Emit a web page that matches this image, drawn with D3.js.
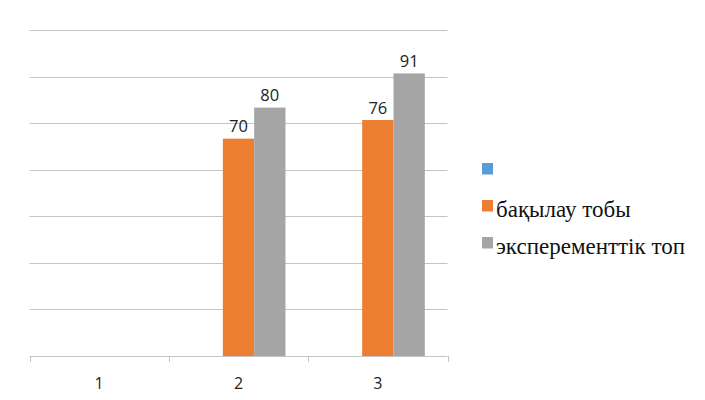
<!DOCTYPE html>
<html>
<head>
<meta charset="utf-8">
<script src="https://cdn.jsdelivr.net/npm/d3@7"></script>
<style>
  html, body { margin: 0; padding: 0; background: #fff; }
  svg { display: block; }
  .legend-label { font-family: "Liberation Serif", "DejaVu Serif", serif; }
</style>
</head>
<body>
<svg id="chart" width="705" height="400"></svg>
<script>
// Chart data
const categories = ["1", "2", "3"];
const seriesNames = ["", "бақылау тобы", "эксперементтік топ"];
const seriesColors = ["#5B9BD5", "#ED7D31", "#A5A5A5"];
const seriesBlank = [null, null, null];
const seriesControl = [null, 70, 76];
const seriesExperiment = [null, 80, 91];
const yTicks = [0, 15, 30, 45, 60, 75, 90, 105];

const seriesValues = [seriesBlank, seriesControl, seriesExperiment];

const svg = d3.select("#chart");
const plot = { left: 29.5, right: 447.5, top: 30, bottom: 356 };

const x0 = d3.scaleBand()
  .domain(categories)
  .range([plot.left, plot.right])
  .paddingInner(0)
  .paddingOuter(0);

// group of three bar slots, gap between groups ~145% of bar width
const groupWidth = x0.bandwidth() * 3 / (3 + 1.45);
const x1 = d3.scaleBand()
  .domain(d3.range(seriesValues.length))
  .range([0, groupWidth]);

const y = d3.scaleLinear()
  .domain([0, 105])
  .range([plot.bottom, plot.top]);

// horizontal gridlines
svg.append("g")
  .selectAll("line")
  .data(yTicks.filter(t => t > 0))
  .join("line")
  .attr("x1", plot.left)
  .attr("x2", plot.right)
  .attr("y1", d => Math.round(y(d)) + 0.5)
  .attr("y2", d => Math.round(y(d)) + 0.5)
  .attr("stroke", "#c4c4c4")
  .attr("stroke-width", 1);

// bars
const groups = svg.append("g")
  .selectAll("g")
  .data(categories)
  .join("g")
  .attr("transform", d => `translate(${x0(d) + (x0.bandwidth() - groupWidth) / 2},0)`);

groups.selectAll("rect")
  .data((c, i) => seriesValues.map((s, k) => ({ k, v: s[i] })))
  .join("rect")
  .filter(d => d.v != null)
  .attr("x", d => x1(d.k))
  .attr("width", x1.bandwidth())
  .attr("y", d => y(d.v))
  .attr("height", d => y(0) - y(d.v))
  .attr("fill", d => seriesColors[d.k]);

// value labels
groups.selectAll("text")
  .data((c, i) => seriesValues.map((s, k) => ({ k, v: s[i] })).filter(d => d.v != null))
  .join("text")
  .attr("x", d => x1(d.k) + x1.bandwidth() / 2)
  .attr("y", d => y(d.v) - 6.5)
  .attr("text-anchor", "middle")
  .attr("font-family", "'Open Sans', 'Liberation Sans', sans-serif")
  .attr("font-size", 16.5)
  .attr("fill", "#222")
  .text(d => d.v);

// category axis
const axisG = svg.append("g")
  .attr("transform", `translate(0,${plot.bottom})`);
axisG.append("line")
  .attr("x1", plot.left).attr("x2", plot.right)
  .attr("y1", 0.5).attr("y2", 0.5)
  .attr("stroke", "#c4c4c4");
axisG.selectAll("line.tick")
  .data(categories.map(c => x0(c)).concat([plot.right]))
  .join("line")
  .attr("class", "tick")
  .attr("x1", d => Math.round(d) + 0.5).attr("x2", d => Math.round(d) + 0.5)
  .attr("y1", 0).attr("y2", 6)
  .attr("stroke", "#c4c4c4");
axisG.selectAll("text")
  .data(categories)
  .join("text")
  .attr("x", d => x0(d) + x0.bandwidth() / 2)
  .attr("y", 32.5)
  .attr("text-anchor", "middle")
  .attr("font-family", "'Open Sans', 'Liberation Sans', sans-serif")
  .attr("font-size", 16)
  .attr("fill", "#222")
  .text(d => d);

// legend
const legend = svg.append("g").attr("transform", "translate(482,0)");
const legendY = [169, 206, 243];
const items = legend.selectAll("g")
  .data(seriesNames.map((n, i) => ({ n, i })))
  .join("g")
  .attr("transform", d => `translate(0,${legendY[d.i]})`);
items.append("rect")
  .attr("x", 0).attr("y", -6)
  .attr("width", 11).attr("height", 11.5)
  .attr("fill", d => seriesColors[d.i]);
items.append("text")
  .attr("class", "legend-label")
  .attr("x", 14)
  .attr("y", 11)
  .attr("font-size", 23)
  .attr("fill", "#111")
  .text(d => d.n);
</script>
</body>
</html>
